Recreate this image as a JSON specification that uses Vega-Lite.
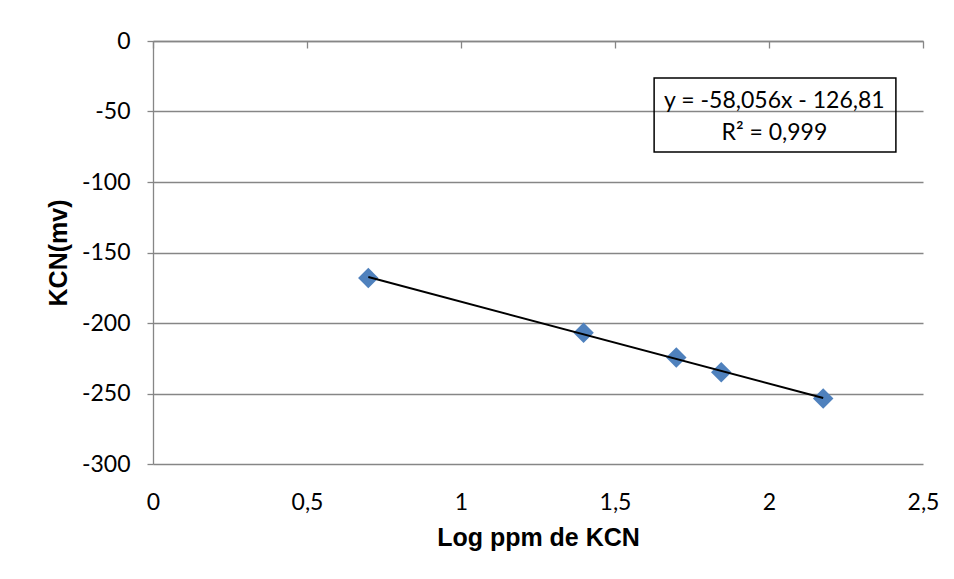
{
  "$schema": "https://vega.github.io/schema/vega-lite/v6.json",
  "width": 770,
  "height": 423,
  "autosize": {"type": "none"},
  "padding": {"left": 153, "top": 41, "right": 31, "bottom": 115},
  "background": "white",
  "config": {"view": {"stroke": null}, "font": "Lato"},
  "datasets": {
    "points": [
      {"log_ppm": 0.699, "mv": -168},
      {"log_ppm": 1.398, "mv": -207},
      {"log_ppm": 1.699, "mv": -224.5},
      {"log_ppm": 1.845, "mv": -235},
      {"log_ppm": 2.176, "mv": -253.5}
    ],
    "box": [{"x1": 1.627, "x2": 2.412, "y1": -26.2, "y2": -78.7}],
    "eq": [
      {"x": 2.0175, "y": -47.7, "label": "y = -58,056x - 126,81"},
      {"x": 2.0175, "y": -70.2, "label": "R² = 0,999"}
    ]
  },
  "resolve": {"axis": {"x": "independent", "y": "independent"}},
  "layer": [
    {
      "data": {"name": "points"},
      "mark": {"type": "point", "shape": "diamond", "filled": true, "size": 420, "color": "#4F81BD", "opacity": 1},
      "encoding": {
        "x": {
          "field": "log_ppm", "type": "quantitative",
          "scale": {"domain": [0, 2.5], "nice": false, "zero": false},
          "axis": {
            "orient": "bottom", "title": "Log ppm de KCN", "values": [0, 0.5, 1, 1.5, 2, 2.5],
            "labelExpr": "replace(datum.value + '', '.', ',')",
            "labelFlush": false, "labelOverlap": false,
            "domain": false, "ticks": false, "tickSize": 0, "grid": false,
            "labelPadding": 27, "labelFontSize": 23, "labelColor": "#000000", "labelFont": "Lato",
            "titleFont": "Liberation Sans", "titleFontWeight": "bold", "titleFontSize": 25, "titleColor": "#000000",
            "titlePadding": 11
          }
        },
        "y": {
          "field": "mv", "type": "quantitative",
          "scale": {"domain": [-300, 0], "nice": false, "zero": false},
          "axis": {
            "orient": "left", "title": "KCN(mv)", "values": [0, -50, -100, -150, -200, -250, -300],
            "labelExpr": "datum.value + ''",
            "labelFlush": false, "labelOverlap": false,
            "domain": true, "domainColor": "#868686", "domainWidth": 1.3,
            "ticks": true, "tickSize": 6, "tickColor": "#868686", "tickWidth": 1.3,
            "grid": true, "gridColor": "#868686", "gridWidth": 1.3,
            "labelPadding": 17, "labelFontSize": 23, "labelColor": "#000000", "labelFont": "Lato",
            "titleFont": "Liberation Sans", "titleFontWeight": "bold", "titleFontSize": 25, "titleColor": "#000000",
            "titlePadding": 10
          }
        }
      }
    },
    {
      "data": {"name": "points"},
      "transform": [{"regression": "mv", "on": "log_ppm", "method": "linear"}],
      "mark": {"type": "line", "color": "#000000", "strokeWidth": 2},
      "encoding": {
        "x": {
          "field": "log_ppm", "type": "quantitative",
          "axis": {
            "orient": "top", "title": null, "labels": false, "values": [0, 0.5, 1, 1.5, 2, 2.5],
            "domain": true, "domainColor": "#868686", "domainWidth": 1.3,
            "ticks": true, "tickSize": -7, "tickColor": "#868686", "tickWidth": 1.3, "grid": false
          }
        },
        "y": {"field": "mv", "type": "quantitative", "axis": null}
      }
    },
    {
      "data": {"name": "box"},
      "mark": {"type": "rect", "fill": null, "fillOpacity": 0, "stroke": "#000000", "strokeWidth": 1.5},
      "encoding": {
        "x": {"field": "x1", "type": "quantitative", "axis": null},
        "x2": {"field": "x2"},
        "y": {"field": "y1", "type": "quantitative", "axis": null},
        "y2": {"field": "y2"}
      }
    },
    {
      "data": {"name": "eq"},
      "mark": {"type": "text", "font": "Lato", "fontSize": 23, "color": "#000000", "align": "center", "baseline": "alphabetic"},
      "encoding": {
        "x": {"field": "x", "type": "quantitative", "axis": null},
        "y": {"field": "y", "type": "quantitative", "axis": null},
        "text": {"field": "label"}
      }
    }
  ]
}
